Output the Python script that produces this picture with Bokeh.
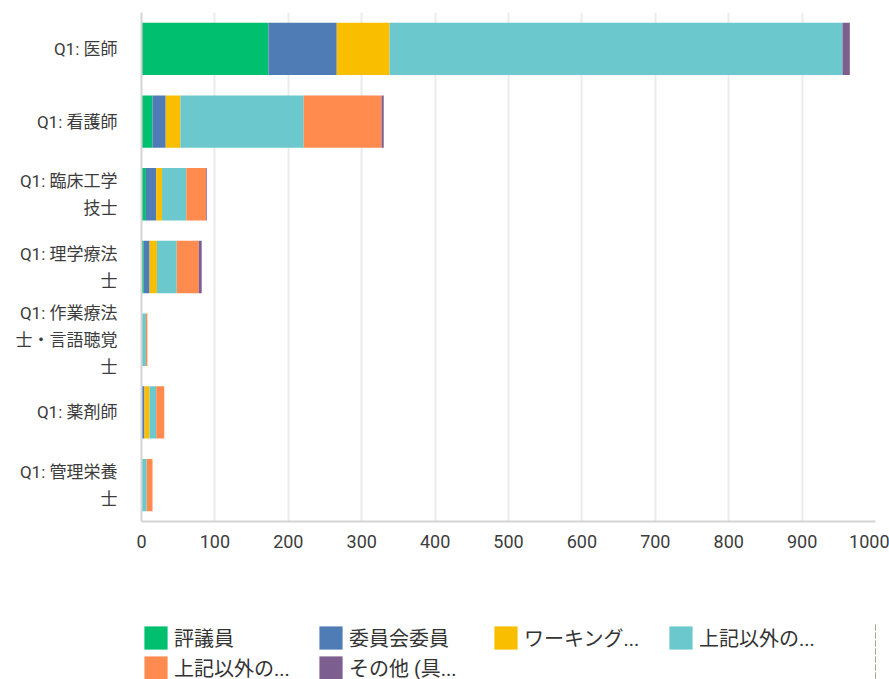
from bokeh.plotting import figure
from bokeh.models import FactorRange, Legend, LegendItem, FixedTicker, Range1d
from bokeh.layouts import column
from bokeh.embed import file_html
from bokeh.resources import INLINE

categories = ["Q1: 医師", "Q1: 看護師", "Q1: 臨床工学\n技士", "Q1: 理学療法\n士",
              "Q1: 作業療法\n士・言語聴覚\n士", "Q1: 薬剤師", "Q1: 管理栄養\n士"]

series_keys = ["s1", "s2", "s3", "s4", "s5", "s6"]
series_names = ["評議員", "委員会委員", "ワーキング...", "上記以外の...", "上記以外の...", "その他 (具..."]
series_colors = ["#00BF6F", "#507CB6", "#F9BE00", "#6BC8CD", "#FF8B4F", "#7D5E90"]

s1 = [173, 15, 6, 3, 0, 0, 0]
s2 = [93, 18, 14, 8, 0, 4, 0]
s3 = [72, 20, 8, 10, 0, 7, 0]
s4 = [617, 168, 33, 27, 6, 9, 7]
s5 = [0, 106, 27, 30, 2, 11, 8]
s6 = [10, 3, 1, 4, 0, 0, 0]

x_ticks = [0, 100, 200, 300, 400, 500, 600, 700, 800, 900, 1000]

FONT = "Roboto, 'Noto Sans CJK JP', sans-serif"

data = dict(cat=categories, s1=s1, s2=s2, s3=s3, s4=s4, s5=s5, s6=s6)

# main chart
p = figure(width=889, height=623, output_backend="svg", toolbar_location=None,
           tools="",
           y_range=FactorRange(factors=list(reversed(categories))),
           x_range=Range1d(0, 1000),
           min_border_left=141, min_border_right=14, min_border_top=12,
           min_border_bottom=102)

p.hbar_stack(series_keys, y="cat", height=0.72, color=series_colors,
             source=data, line_color=None)

p.outline_line_color = None
p.background_fill_color = "white"
p.border_fill_color = "white"

p.ygrid.grid_line_color = None
p.xgrid.grid_line_color = "#ebebeb"
p.xgrid.grid_line_width = 2
p.xaxis.ticker = FixedTicker(ticks=x_ticks)

for ax in (p.xaxis[0], p.yaxis[0]):
    ax.major_tick_line_color = None
    ax.minor_tick_line_color = None
    ax.axis_line_color = "#d4d4d4"
    ax.axis_line_width = 2
    ax.major_label_text_font = FONT
    ax.major_label_text_color = "#3c3c3c"

p.xaxis.major_label_text_font_size = "18px"
p.yaxis.major_label_text_font_size = "17px"
p.xaxis.major_label_standoff = 7
p.yaxis.major_label_standoff = 18
p.yaxis.major_label_text_line_height = 1.35

# legend strip (its bars lie outside the visible range; only the legend shows)
lf = figure(width=889, height=56, output_backend="svg", toolbar_location=None,
            tools="", x_axis_location=None, y_axis_location=None,
            y_range=FactorRange(factors=categories), x_range=Range1d(-1001, -1000),
            min_border_left=128, min_border_right=0, min_border_top=0,
            min_border_bottom=0)
lf.outline_line_color = None
lf.xgrid.grid_line_color = None
lf.ygrid.grid_line_color = None
lf.border_fill_color = "white"
lf.background_fill_color = "white"

legend_renderers = lf.hbar_stack(series_keys, y="cat", height=0.72, color=series_colors,
                                 source=data, line_color=None)
items = [LegendItem(label=n, renderers=[r]) for n, r in zip(series_names, legend_renderers)]
legend = Legend(items=items, ncols=4, orientation="horizontal",
                location="top_left", padding=0, margin=0, spacing=1,
                glyph_width=29, glyph_height=29, label_width=141, label_height=29,
                label_standoff=4, border_line_color=None, background_fill_alpha=0,
                label_text_font=FONT, label_text_font_size="20px",
                label_text_color="#333333")
lf.add_layout(legend, "center")

layout = column(p, lf, spacing=0)
open("out.html", "w").write(file_html(layout, INLINE))
